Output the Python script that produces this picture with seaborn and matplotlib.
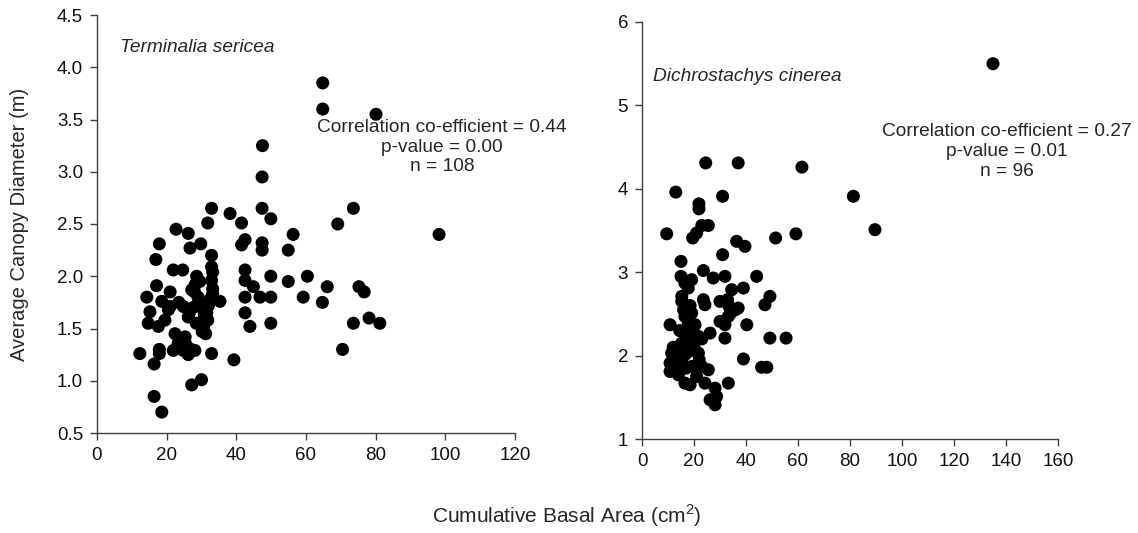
import matplotlib
matplotlib.use("Agg")
import matplotlib.pyplot as plt
import seaborn as sns
import pandas as pd

# ---------------- data ----------------
ts_basal = [64.8, 64.8, 80.1, 47.5, 47.4, 98.2, 73.6, 69.1, 56.3, 47.4, 49.9, 47.4, 47.4, 54.9,
            49.9, 54.9, 60.4, 66.1, 46.8, 49.9, 59.2, 64.7, 75.2, 76.7, 49.9, 73.6, 78.1, 81.2, 70.5,
            32.9, 38.2, 41.5, 22.7, 26.2, 31.8, 17.9, 26.7, 29.8, 42.5, 41.5, 32.9, 16.9, 21.9, 24.6,
            32.9, 28.6, 32.9, 42.5, 42.5, 44.9, 17.1, 21.0, 14.3, 18.6, 27.2, 35.3, 42.5, 15.2, 21.0,
            24.8, 14.7, 17.6, 26.2, 42.5, 43.9, 22.4, 25.3, 23.3, 12.3, 17.9, 17.9, 21.9, 24.8, 26.2,
            28.1, 32.9, 39.3, 16.4, 27.2, 30.0, 16.4, 18.6,
            33.2, 33.2, 33.2, 32.5, 29.5, 29.0, 29.2, 30.5, 30.8, 30.8, 30.6, 30.2, 31.5, 31.8, 28.0,
            28.2, 27.5, 26.5, 23.5, 19.5, 25.5, 27.0, 32.0, 31.2, 28.5, 20.5]
ts_canopy = [3.85, 3.60, 3.55, 3.25, 2.95, 2.40, 2.65, 2.50, 2.40, 2.65, 2.55, 2.32, 2.25, 2.25,
             2.00, 1.95, 2.00, 1.90, 1.80, 1.80, 1.80, 1.75, 1.90, 1.85, 1.55, 1.55, 1.60, 1.55, 1.30,
             2.65, 2.60, 2.51, 2.45, 2.41, 2.51, 2.31, 2.27, 2.31, 2.35, 2.30, 2.20, 2.16, 2.06, 2.06,
             2.09, 2.00, 1.96, 2.06, 1.96, 1.90, 1.91, 1.85, 1.80, 1.76, 1.87, 1.76, 1.80, 1.66, 1.71,
             1.71, 1.55, 1.52, 1.61, 1.65, 1.52, 1.45, 1.42, 1.36, 1.26, 1.30, 1.26, 1.29, 1.29, 1.25,
             1.29, 1.26, 1.20, 1.16, 0.96, 1.01, 0.85, 0.70,
             2.04, 1.88, 1.83, 1.78, 1.95, 1.80, 1.75, 1.68, 1.62, 1.57, 1.52, 1.47, 1.65, 1.58, 1.85,
             1.92, 1.70, 1.65, 1.75, 1.58, 1.35, 1.30, 1.72, 1.45, 1.55, 1.68]

dc_basal = [135.0, 81.3, 89.6, 61.5, 59.2, 51.4,
            24.5, 37.0, 13.0, 31.0, 21.9, 21.9, 9.5, 19.5, 21.0, 23.0, 25.5, 36.4, 39.6, 31.0, 15.0,
            15.0, 23.6, 27.4, 31.9, 44.1, 16.5, 19.1, 17.8, 34.5, 39.0, 15.3, 15.3, 23.6, 24.2, 32.9,
            33.5, 34.1, 35.9, 37.0, 49.2, 47.3,
            16.5, 19.1, 17.8, 20.4, 10.8, 30.0, 31.9, 33.2, 40.3, 26.2, 31.9, 49.2, 55.4,
            15.3, 17.8, 20.4, 16.5, 21.7, 11.4, 14.0, 21.7, 16.5,
            10.8, 15.3, 19.1, 23.0, 25.5, 39.0, 46.0, 48.0,
            10.8, 14.0, 16.5, 18.5, 24.2, 28.1, 33.2, 26.2, 28.1, 28.7,
            12.0, 13.0, 14.5, 18.0, 19.0, 20.0, 22.0, 17.0, 12.5, 21.0, 16.0, 23.0, 18.5, 30.0]
dc_canopy = [5.50, 3.91, 3.51, 4.26, 3.46, 3.41,
             4.31, 4.31, 3.96, 3.91, 3.82, 3.76, 3.46, 3.41, 3.47, 3.56, 3.56, 3.37, 3.31, 3.21, 3.13,
             2.95, 3.02, 2.93, 2.95, 2.95, 2.87, 2.91, 2.81, 2.79, 2.81, 2.71, 2.65, 2.67, 2.61, 2.67,
             2.59, 2.51, 2.55, 2.57, 2.71, 2.61,
             2.47, 2.51, 2.39, 2.37, 2.37, 2.41, 2.37, 2.47, 2.37, 2.27, 2.21, 2.21, 2.21,
             2.15, 2.19, 2.19, 2.25, 2.23, 2.03, 2.05, 2.03, 2.01,
             1.91, 1.91, 1.87, 1.87, 1.83, 1.96, 1.86, 1.86,
             1.81, 1.77, 1.67, 1.65, 1.67, 1.61, 1.67, 1.47, 1.41, 1.51,
             2.10, 1.95, 2.30, 2.05, 2.30, 2.10, 1.95, 1.85, 1.85, 1.75, 2.55, 2.20, 2.60, 2.65]

species = ["Terminalia sericea", "Dichrostachys cinerea"]
stats = ["Correlation co-efficient = 0.44\np-value = 0.00\nn = 108",
         "Correlation co-efficient = 0.27\np-value = 0.01\nn = 96"]
ts_xticks = [0, 20, 40, 60, 80, 100, 120]
ts_yticks = [0.5, 1.0, 1.5, 2.0, 2.5, 3.0, 3.5, 4.0, 4.5]
dc_xticks = [0, 20, 40, 60, 80, 100, 120, 140, 160]
dc_yticks = [1, 2, 3, 4, 5, 6]

# ---------------- style ----------------
sns.set_style("white")
plt.rcParams["font.family"] = ["Liberation Sans", "DejaVu Sans"]
plt.rcParams["mathtext.fontset"] = "custom"
plt.rcParams["mathtext.rm"] = "Liberation Sans"

W, H = 1138, 533
fig = plt.figure(figsize=(W / 100, H / 100), dpi=100)

def axbox(l, r, t, b):
    return [l / W, 1 - b / H, (r - l) / W, (b - t) / H]

ax1 = fig.add_axes(axbox(97, 515, 15, 433))
ax2 = fig.add_axes(axbox(642, 1058, 22, 439))

df1 = pd.DataFrame({"basal": ts_basal, "canopy": ts_canopy})
df2 = pd.DataFrame({"basal": dc_basal, "canopy": dc_canopy})

for ax, df in [(ax1, df1), (ax2, df2)]:
    sns.scatterplot(data=df, x="basal", y="canopy", ax=ax, color="black",
                    s=88, edgecolor="none", linewidth=0, legend=False, zorder=3)
    ax.set_xlabel("")
    ax.set_ylabel("")
    for side in ["top", "right"]:
        ax.spines[side].set_visible(False)
    for side in ["left", "bottom"]:
        ax.spines[side].set_color("#404040")
        ax.spines[side].set_linewidth(1.0)
    ax.tick_params(axis="both", which="both", direction="out", length=5, width=1,
                   color="#404040", labelsize=13.5, labelcolor="#111111", pad=5)
    ax.tick_params(left=True, bottom=True)

ax1.set_xlim(0, 120)
ax1.set_ylim(0.5, 4.5)
ax1.set_xticks(ts_xticks)
ax1.set_yticks(ts_yticks)
ax1.set_yticklabels([f"{v:.1f}" for v in ts_yticks])

ax2.set_xlim(0, 160)
ax2.set_ylim(1, 6)
ax2.set_xticks(dc_xticks)
ax2.set_yticks(dc_yticks)

ax1.text(0.055, 0.923, species[0], transform=ax1.transAxes, fontsize=13.8,
         style="italic", ha="left", va="center")
ax2.text(0.027, 0.869, species[1], transform=ax2.transAxes, fontsize=13.8,
         style="italic", ha="left", va="center")

ax1.text(0.825, 0.752, stats[0], transform=ax1.transAxes, fontsize=13.8,
         ha="center", va="top", multialignment="center", linespacing=1.22, zorder=4)
ax2.text(0.877, 0.757, stats[1], transform=ax2.transAxes, fontsize=13.8,
         ha="center", va="top", multialignment="center", linespacing=1.22, zorder=4)

fig.text(20 / W, 1 - 224 / H, "Average Canopy Diameter (m)", rotation=90,
         ha="center", va="center", fontsize=14.5)
fig.text(567 / W, 1 - 516 / H, r"Cumulative Basal Area (cm$^{\mathregular{2}}$)",
         ha="center", va="center", fontsize=15)

fig.savefig("out.png", dpi=100)
